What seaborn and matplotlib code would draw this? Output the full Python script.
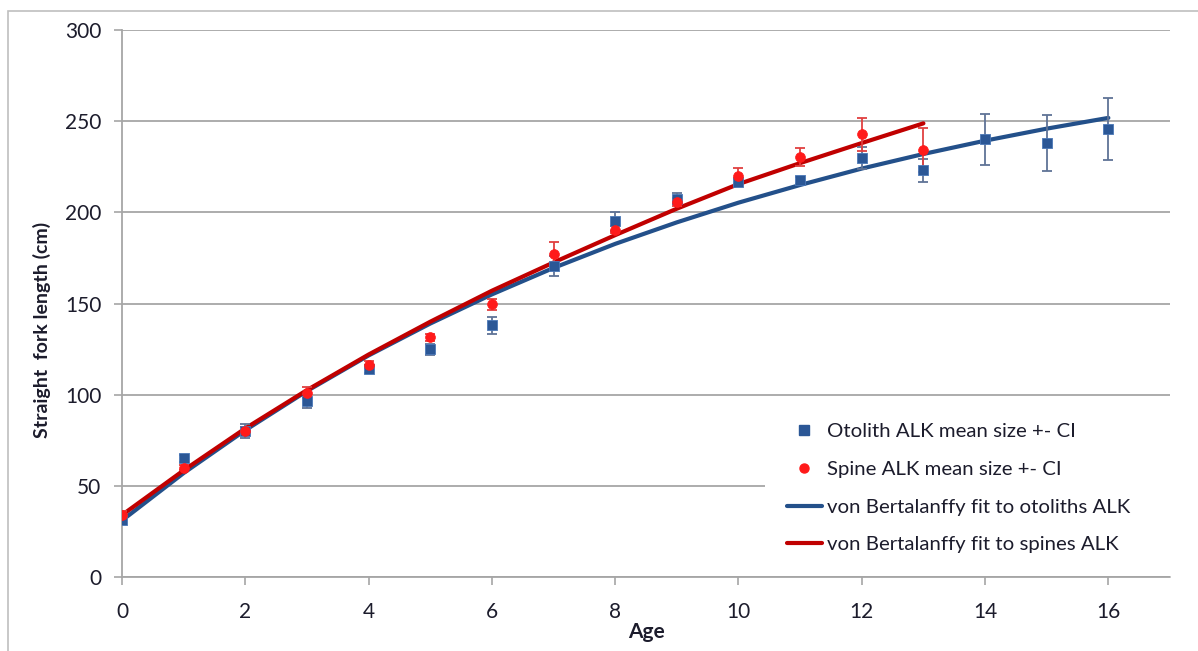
import numpy as np
import pandas as pd
import matplotlib
matplotlib.use("Agg")
import matplotlib.pyplot as plt
from matplotlib.lines import Line2D
from matplotlib.patches import Rectangle
import seaborn as sns

# ---- data ----
oto_age = list(range(0, 17))
oto_mean = [31, 65, 80, 96.5, 114, 125, 138, 170.5, 195, 207.5, 216.5, 217.5, 230, 223, 240, 238, 245.7]
oto_ci = [1.5, 2, 4, 4, 2, 3, 4.5, 5.5, 5, 3, 2, 2, 6, 6.5, 14, 15.5, 17]

spine_age = list(range(0, 14))
spine_mean = [34, 60, 80, 101, 116.5, 131.5, 149.5, 177, 190.5, 205.7, 220, 230.5, 242.8, 234]
spine_ci = [2, 1.5, 2, 3, 2, 2, 3, 6.5, 2, 2, 4.5, 5, 9, 12]

vb_oto = [31, 57, 80.5, 102, 121.5, 139, 155, 169.5, 182.7, 194.5, 205.3, 215, 224, 232, 239.3, 245.9, 251.8]
vb_spine = [34, 58.5, 81.5, 102.5, 122, 140, 157, 172.5, 187.5, 202, 215.5, 227, 238, 248.8]

labels = ["Otolith ALK mean size +- CI", "Spine ALK mean size +- CI",
          "von Bertalanffy fit to otoliths ALK", "von Bertalanffy fit to spines ALK"]
x_ticks = [0, 2, 4, 6, 8, 10, 12, 14, 16]
y_ticks = [0, 50, 100, 150, 200, 250, 300]

# ---- style ----
sns.set_theme(style="white")
plt.rcParams["font.family"] = ["Lato", "DejaVu Sans"]

BLUE_PT = "#2B5796"
BLUE_LN = "#23508A"
BLUE_ERR = "#5F7396"
RED_PT = "#FF1A1A"
RED_LN = "#C00000"
RED_ERR = "#E04040"
GRID = "#A6A6A6"
TXT = "#1C1C2C"

fig = plt.figure(figsize=(11.98, 6.51), dpi=100)
ax = fig.add_axes([122 / 1198, 1 - 577 / 651, (1170 - 122) / 1198, (577 - 30) / 651])

df_oto = pd.DataFrame({"age": oto_age, "len": oto_mean, "ci": oto_ci, "fit": vb_oto})
df_sp = pd.DataFrame({"age": spine_age, "len": spine_mean, "ci": spine_ci, "fit": vb_spine})

# fitted curves
sns.lineplot(data=df_oto, x="age", y="fit", ax=ax, color=BLUE_LN, lw=3.0, zorder=3,
             legend=False, solid_capstyle="round")
sns.lineplot(data=df_sp, x="age", y="fit", ax=ax, color=RED_LN, lw=3.0, zorder=3.5,
             legend=False, solid_capstyle="round")

# error bars
ax.errorbar(df_oto["age"], df_oto["len"], yerr=df_oto["ci"], fmt="none",
            ecolor=BLUE_ERR, elinewidth=1.3, capsize=3.5, capthick=1.3, zorder=4)
ax.errorbar(df_sp["age"], df_sp["len"], yerr=df_sp["ci"], fmt="none",
            ecolor=RED_ERR, elinewidth=1.3, capsize=3.5, capthick=1.3, zorder=4)

# points
sns.scatterplot(data=df_oto, x="age", y="len", ax=ax, marker="s", s=56, color=BLUE_PT,
                edgecolor="#4A78B8", linewidth=0.6, zorder=5, legend=False)
sns.scatterplot(data=df_sp, x="age", y="len", ax=ax, marker="o", s=50, color=RED_PT,
                edgecolor=RED_PT, linewidth=0.5, zorder=6, legend=False)

# axes
ax.set_xlim(0, 17)
ax.set_ylim(0, 300)
ax.set_xticks(x_ticks)
ax.set_yticks(y_ticks)
ax.yaxis.grid(True, color=GRID, lw=1.3)
ax.xaxis.grid(False)
ax.set_axisbelow(True)
for s in ["top", "right", "bottom"]:
    ax.spines[s].set_visible(False)
ax.spines["left"].set_color(GRID)
ax.spines["left"].set_linewidth(1.3)
ax.axhline(0, color=GRID, lw=1.3, zorder=0.6, clip_on=False)
ax.tick_params(axis="both", which="both", direction="out", length=6, width=1.2,
               color=GRID, labelsize=15, labelcolor=TXT)
ax.tick_params(axis="y", pad=9, left=True)
ax.tick_params(axis="x", pad=12, bottom=True)

ax.set_xlabel("Age", fontsize=15, fontweight="bold", color=TXT)
ax.set_ylabel("Straight  fork length (cm)", fontsize=14, fontweight="bold", color=TXT)
ax.xaxis.set_label_coords(0.5, (577 - 622) / 547)
ax.yaxis.set_label_coords((51 - 122) / 1048, (577 - 330) / 547)

# white legend area covering the gridline
ax.add_patch(Rectangle((0.614, 0.009), 0.4, 0.315, transform=ax.transAxes,
                       facecolor="white", edgecolor="none", zorder=1.5, clip_on=False))

handles = [
    Line2D([], [], marker="s", color="none", markerfacecolor=BLUE_PT, markeredgecolor=BLUE_PT, markersize=6.5),
    Line2D([], [], marker="o", color="none", markerfacecolor=RED_PT, markeredgecolor=RED_PT, markersize=6.5),
    Line2D([], [], color=BLUE_LN, lw=3),
    Line2D([], [], color=RED_LN, lw=3),
]
leg = ax.legend(handles, labels, loc="upper left",
                bbox_to_anchor=((787 - 122) / 1048, (577 - 423) / 547),
                frameon=False, fontsize=14.7, handlelength=1.7, handletextpad=0.25,
                labelspacing=1.0, borderpad=0, borderaxespad=0)
for t in leg.get_texts():
    t.set_color(TXT)

# outer chart frame
fig.patches.append(Rectangle((8 / 1198, -0.1), 1.2, 1 - 11 / 651 + 0.1, transform=fig.transFigure,
                             facecolor="none", edgecolor="#BFBFBF", lw=1.2, zorder=0))

fig.savefig("out.png", dpi=100)
